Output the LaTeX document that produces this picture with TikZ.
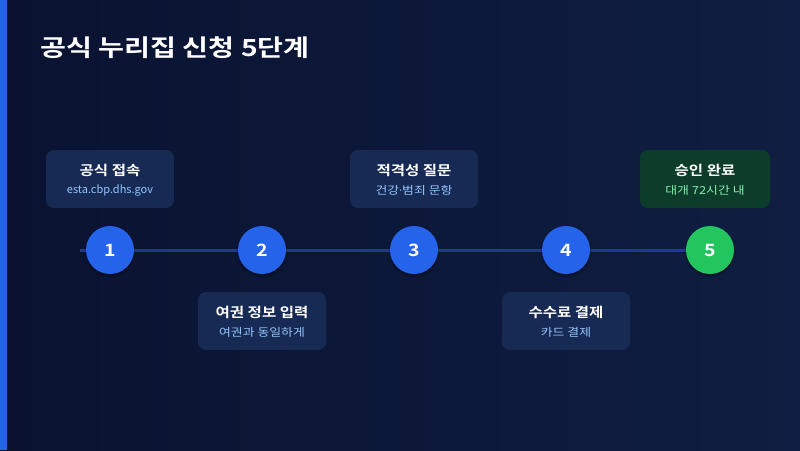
\documentclass[tikz,border=0pt]{standalone}
\usepackage{fontspec}
\setmainfont{Noto Sans CJK KR}
\newfontfamily\krb[FakeStretch=1.15]{Noto Sans CJK KR Bold}
\newfontfamily\krbT[FakeStretch=1.2]{Noto Sans CJK KR Bold}
\newfontfamily\krw[FakeStretch=1.17]{Noto Sans CJK KR}
\newfontfamily\latn{Noto Sans}
\usetikzlibrary{shadows.blur}
\definecolor{bgL}{HTML}{0A1230}
\definecolor{bgR}{HTML}{0F1E42}
\definecolor{accent}{HTML}{2563EB}
\definecolor{lineC}{HTML}{1E3A8A}
\definecolor{boxC}{HTML}{172A54}
\definecolor{boxG}{HTML}{0C3D2A}
\definecolor{subB}{HTML}{93C5FD}
\definecolor{subG}{HTML}{86EFAC}
\definecolor{greenC}{HTML}{22C55E}
\tikzset{
  card/.style={fill=boxC, rounded corners=8pt, draw=none},
  cardG/.style={card, fill=boxG},
  dot/.style={circle, minimum size=48pt, inner sep=0pt, fill=accent, text=white, font=\krb\fontsize{17}{17}\selectfont, blur shadow={shadow xshift=0pt, shadow yshift=-2pt, shadow blur steps=6, shadow opacity=40}},
  dotG/.style={dot, fill=greenC},
  ttl/.style={text=white, font=\krb\fontsize{13.5}{13.5}\selectfont, inner sep=0pt},
  sub/.style={text=subB, font=\krw\fontsize{11}{11}\selectfont, inner sep=0pt},
  subl/.style={sub, font=\fontsize{11}{11}\selectfont},
  subg/.style={sub, text=subG}
}
\begin{document}
\begin{tikzpicture}[x=1pt,y=-1pt]
\useasboundingbox (0,0) rectangle (800,450);
\shade[left color=bgL, right color=bgR] (0,0) rectangle (800,450);
\fill[accent] (0,0) rectangle (7,450);
\node[anchor=base west, text=white, font=\krbT\fontsize{23.5}{23.5}\selectfont, inner sep=0pt] (title) at (40,56) {공식 누리집 신청 5단계};
% timeline
\coordinate (ls) at (80,250);
\coordinate (le) at (710,250);
\draw[lineC, line width=3pt] (ls) -- (le);
% circles
\node[dot] (c1) at (110,250) {1};
\node[dot] (c2) at (262,250) {2};
\node[dot] (c3) at (414,250) {3};
\node[dot] (c4) at (566,250) {4};
\node[dotG] (c5) at (710,250) {5};
% cards
\fill[card] (46,150) rectangle (174,208);
\node[ttl] (t1) at (110,170) {공식 접속};
\node[subl] (s1) at (110,190) {esta.cbp.dhs.gov};
\fill[card] (198,292) rectangle (326,350);
\node[ttl] (t2) at (262,312) {여권 정보 입력};
\node[sub] (s2) at (262,332) {여권과 동일하게};
\fill[card] (350,150) rectangle (478,208);
\node[ttl] (t3) at (414,170) {적격성 질문};
\node[sub] (s3) at (414,190) {건강{\latn ·}범죄 문항};
\fill[card] (502,292) rectangle (630,350);
\node[ttl] (t4) at (566,312) {수수료 결제};
\node[sub] (s4) at (566,332) {카드 결제};
\fill[cardG] (640,150) rectangle (770,208);
\node[ttl] (t5) at (705,170) {승인 완료};
\node[subg] (s5) at (705,190) {대개 72시간 내};
\end{tikzpicture}
\end{document}
